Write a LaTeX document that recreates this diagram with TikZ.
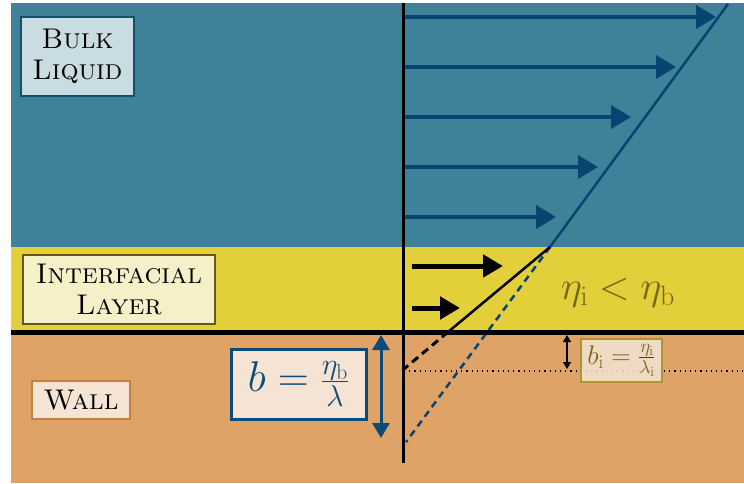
\RequirePackage{fix-cm}
\documentclass[tikz,border=0pt]{standalone}
\usetikzlibrary{arrows.meta}
\definecolor{bulkbg}{RGB}{62,130,154}
\definecolor{layerbg}{RGB}{226,207,58}
\definecolor{wallbg}{RGB}{223,163,103}
\definecolor{flowblue}{RGB}{8,68,112}
\definecolor{bulkfill}{RGB}{200,220,226}
\definecolor{bulkline}{RGB}{20,80,100}
\definecolor{layerfill}{RGB}{246,240,200}
\definecolor{layerline}{RGB}{100,90,20}
\definecolor{wallfill}{RGB}{245,228,212}
\definecolor{wallline}{RGB}{190,130,70}
\definecolor{bline}{RGB}{12,75,120}
\definecolor{olivetext}{RGB}{118,102,28}
\definecolor{biline}{RGB}{170,150,50}
\begin{document}
\begin{tikzpicture}[x=1pt,y=-1pt,
  labelbox/.style={draw, line width=2.5pt, inner sep=0pt, align=center,
    font=\fontsize{28.5}{31}\selectfont\scshape},
  flowarrow/.style={draw=flowblue, line width=4pt, -{Triangle[length=20pt,width=23pt]}},
  layerarrow/.style={draw=black, line width=5pt, -{Triangle[length=20pt,width=22pt]}},
]
\useasboundingbox (0,0) rectangle (744,483);
% backgrounds
\fill[bulkbg] (11,3) rectangle (744,247);
\fill[layerbg] (11,247) rectangle (744,332);
\fill[wallbg] (11,332) rectangle (744,483);

% coordinates
\coordinate (axtop) at (403,3);
\coordinate (axbot) at (403,463);
\coordinate (wl) at (11,332);
\coordinate (wr) at (744,332);
\coordinate (btop) at (728,4);
\coordinate (bknee) at (550,247);
\coordinate (bslip) at (406,442);
\coordinate (iwall) at (448,332);
\coordinate (islip) at (404,369);
\coordinate (dl) at (404,371);
\coordinate (dr) at (744,371);

% flow arrows in bulk
\foreach \y/\xe in {17/716,67/676,117/631,167/598,217/556}{
  \coordinate (fs\y) at (405,\y);
  \coordinate (fe\y) at (\xe,\y);
  \draw[flowarrow] (fs\y) -- (fe\y);
}
% flow arrows in layer
\coordinate (ls1) at (412,266); \coordinate (le1) at (503,266);
\coordinate (ls2) at (412,308); \coordinate (le2) at (460,308);
\draw[layerarrow] (ls1) -- (le1);
\draw[layerarrow] (ls2) -- (le2);

% profiles
\draw[flowblue, line width=2.5pt] (btop) -- (bknee);
\draw[flowblue, line width=2.5pt, dash pattern=on 7pt off 5pt] (bknee) -- (bslip);
\draw[black, line width=2.5pt] (bknee) -- (iwall);
\draw[black, line width=3pt, dash pattern=on 8pt off 5pt] (iwall) -- (islip);

% dotted slip level
\draw[black, line width=1.2pt, dash pattern=on 1.2pt off 4pt] (dl) -- (dr);

% wall line and axis
\draw[black, line width=5pt] (wl) -- (wr);
\draw[black, line width=3pt] (axtop) -- (axbot);

% slip length arrows
\coordinate (ba1) at (381,335); \coordinate (ba2) at (381,438);
\draw[bline, line width=3pt, {Triangle[length=15pt,width=17pt]}-{Triangle[length=15pt,width=17pt]}] (ba1) -- (ba2);
\coordinate (sa1) at (567,335); \coordinate (sa2) at (567,369);
\draw[black, line width=1.3pt, {Triangle[length=7pt,width=8pt]}-{Triangle[length=7pt,width=8pt]}] (sa1) -- (sa2);

% labels
\node[labelbox, draw=bulkline, fill=bulkfill, minimum width=113pt, minimum height=79pt] (bulk) at (77.5,56.5) {Bulk\\Liquid};
\node[labelbox, draw=layerline, fill=layerfill, minimum width=192pt, minimum height=69pt] (layer) at (119,289.5) {Interfacial\\Layer};
\node[labelbox, line width=1.5pt, draw=wallline, fill=wallfill, minimum width=98pt, minimum height=38pt] (wall) at (81,400) {Wall};

\node[draw=bline, line width=3pt, fill=wallfill, inner sep=0pt, minimum width=135pt, minimum height=70pt, text=bline,
  font=\fontsize{43}{48}\selectfont] (bbox) at (298.5,384) {$b=\frac{\eta_\mathrm{b}}{\lambda}$};

\node[draw=biline, line width=2pt, fill=wallfill, fill opacity=0.85, text opacity=1, inner sep=0pt, minimum width=81pt, minimum height=43pt,
  font=\fontsize{27}{32}\selectfont] (bibox) at (621.5,360.5)
  {\color{olivetext}$b_\mathrm{i}=\color{bline}\frac{\color{olivetext}\eta_\mathrm{i}}{\color{olivetext}\lambda_\mathrm{i}}$};

\node[text=olivetext, inner sep=0pt, font=\fontsize{40}{48}\selectfont] (eta) at (618,293) {$\eta_\mathrm{i}<\eta_\mathrm{b}$};
\end{tikzpicture}
\end{document}
